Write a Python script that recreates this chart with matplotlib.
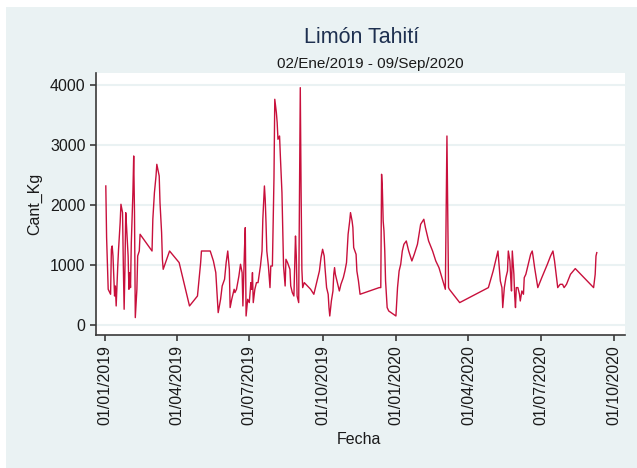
import matplotlib
matplotlib.use('Agg')
import matplotlib.pyplot as plt
import pandas as pd
from matplotlib.patches import Rectangle

# ---------------- data ----------------
# days since 2019-01-01
dias = [1, 2, 4, 6, 7, 8, 9, 10, 11, 12, 13, 14, 15, 16, 17, 19, 20, 22, 23, 24,
        25, 26, 27, 29, 30, 31, 32, 33, 35, 36, 37, 38, 40, 41, 43, 44, 59, 60, 62, 64,
        65, 68, 69, 71, 72, 73, 81, 93, 99, 106, 116, 120, 121, 132, 136, 139, 141, 142, 145, 147,
        150, 152, 154, 156, 157, 159, 162, 163, 165, 168, 170, 172, 173, 175, 176, 177, 179, 181, 183, 184,
        185, 186, 188, 190, 192, 195, 197, 198, 200, 201, 202, 203, 205, 207, 208, 210, 212, 213, 215, 216,
        217, 219, 220, 222, 223, 224, 226, 227, 229, 232, 233, 235, 237, 239, 240, 241, 243, 244, 245, 246,
        247, 248, 250, 258,
        262, 265, 269, 271, 273, 275, 276, 278, 280, 281, 282, 284, 286, 287, 288, 289, 291, 294, 296, 299,
        301, 303, 305, 307, 308, 310, 311, 312,
        315, 316, 318, 320, 344, 346, 347, 348, 349, 350, 351, 352, 354, 356, 359, 365, 367, 369, 371, 373,
        375, 378, 381, 385, 388, 392, 394, 396, 400, 402, 406, 411, 415, 419,
        424, 427, 428, 429, 430, 431, 432, 445, 481, 487, 493, 494, 496, 498, 499, 501, 503, 505, 506, 508,
        509, 510, 511, 513, 514, 515, 516, 518, 520, 521, 523, 525,
        526, 528, 530, 532, 534, 536, 537, 539, 541, 543, 548, 555, 559, 562, 564, 566, 568, 571, 574, 576,
        579, 584, 590, 613, 615, 616, 617]

cant_kg = [2317, 1456, 595, 540, 512, 1262, 1317, 1150, 817, 483, 650, 317, 650, 983, 1262, 1706, 2012, 1872, 983, 262,
           928, 1872, 1650, 1150, 595, 873, 623, 1373, 2206, 2817, 1872, 123, 595, 1150, 1233, 1512, 1233, 1762, 2206, 2483,
           2678, 2483, 2039, 1540, 1095, 928, 1233, 1040, 706, 317, 483, 1040, 1233, 1233, 1067, 873, 428, 206, 428, 650,
           762, 1040, 1233, 928, 290, 428, 595, 540, 595, 817, 1012, 873, 317, 1262, 1623, 150, 428, 373, 706, 595,
           873, 373, 595, 706, 706, 983, 1233, 1762, 2317, 2095, 1706, 1233, 983, 623, 983, 983, 2456, 3762, 3539, 3373,
           3095, 3150, 2817, 2206, 1595, 983, 650, 1095, 1040, 928, 650, 540, 483, 1483, 1150, 483, 373, 2262, 3956, 2262,
           928, 623, 706, 595,
           512, 678, 900, 1123, 1262, 1150, 956, 623, 512, 290, 150, 400, 567, 845, 956, 845, 733, 567, 678, 789,
           900, 1040, 1512, 1733, 1873, 1733, 1623, 1290,
           1178, 900, 733, 512, 623, 623, 2512, 2262, 1733, 1567, 1233, 733, 290, 233, 206, 150, 623, 900, 1012, 1233,
           1345, 1400, 1233, 1067, 1178, 1345, 1512, 1678, 1762, 1623, 1400, 1233, 1067, 956,
           733, 595, 1845, 3150, 1845, 623, 595, 373, 623, 900, 1233, 1067, 733, 623, 290, 623, 789, 900, 1233, 1067,
           789, 567, 1233, 845, 483, 290, 623, 623, 512, 400, 567, 512,
           789, 845, 956, 1067, 1178, 1233, 1150, 956, 789, 623, 789, 1012, 1150, 1233, 1067, 845, 623, 678, 678, 623,
           678, 845, 940, 623, 845, 1150, 1206]

x_ticks = ['2019-01-01', '2019-04-01', '2019-07-01', '2019-10-01',
           '2020-01-01', '2020-04-01', '2020-07-01', '2020-10-01']
x_tick_labels = ['01/01/2019', '01/04/2019', '01/07/2019', '01/10/2019',
                 '01/01/2020', '01/04/2020', '01/07/2020', '01/10/2020']
y_ticks = [0, 1000, 2000, 3000, 4000]

titulo = 'Limón Tahití'
subtitulo = '02/Ene/2019 - 09/Sep/2020'

# ---------------- plot ----------------
plt.rcParams['font.family'] = ['Liberation Sans', 'DejaVu Sans']

W, H = 637, 468
fig = plt.figure(figsize=(W / 100, H / 100), dpi=100, facecolor='white')
fig.patches.append(Rectangle((6 / W, 0), 1, 1 - 7 / H, transform=fig.transFigure,
                             facecolor='#EAF2F3', edgecolor='none', zorder=-10))

ax = fig.add_axes([96 / W, 1 - 335 / H, 529 / W, 262 / H])
ax.set_facecolor('white')

base = pd.Timestamp('2019-01-01')
fechas = base + pd.to_timedelta(dias, unit='D')
ax.plot(fechas, cant_kg, color='#C8103C', lw=1.0, zorder=3)

ax.set_xlim(base - pd.Timedelta(days=11.3), base + pd.Timedelta(days=652.4))
ax.set_ylim(-167, 4200)

ax.set_xticks(pd.to_datetime(x_ticks))
ax.set_xticklabels(x_tick_labels, rotation=90)
ax.set_yticks(y_ticks)
ax.set_yticklabels([str(v) for v in y_ticks])

ax.grid(axis='y', color='#EAF2F3', lw=1.5)
ax.set_axisbelow(True)

for s in ['top', 'right']:
    ax.spines[s].set_visible(False)
for s in ['left', 'bottom']:
    ax.spines[s].set_color('#3A3A3A')
    ax.spines[s].set_linewidth(1.2)

ax.tick_params(axis='both', length=4, width=1.2, color='#3A3A3A',
               labelsize=11.5, labelcolor='#1A1A1A', pad=3.5)

fig.text(35 / W, 1 - 204 / H, 'Cant_Kg', rotation=90, ha='center', va='center',
         fontsize=11.5, color='#1A1A1A')
fig.text(359 / W, 1 - 440 / H, 'Fecha', ha='center', va='center',
         fontsize=11.5, color='#1A1A1A')
fig.text(362 / W, 1 - 43 / H, titulo, ha='center', va='baseline',
         fontsize=15.5, color='#1E3050')
fig.text(370 / W, 1 - 68 / H, subtitulo, ha='center', va='baseline',
         fontsize=11, color='#1A1A1A')

fig.savefig('out.png', dpi=100, facecolor=fig.get_facecolor())
